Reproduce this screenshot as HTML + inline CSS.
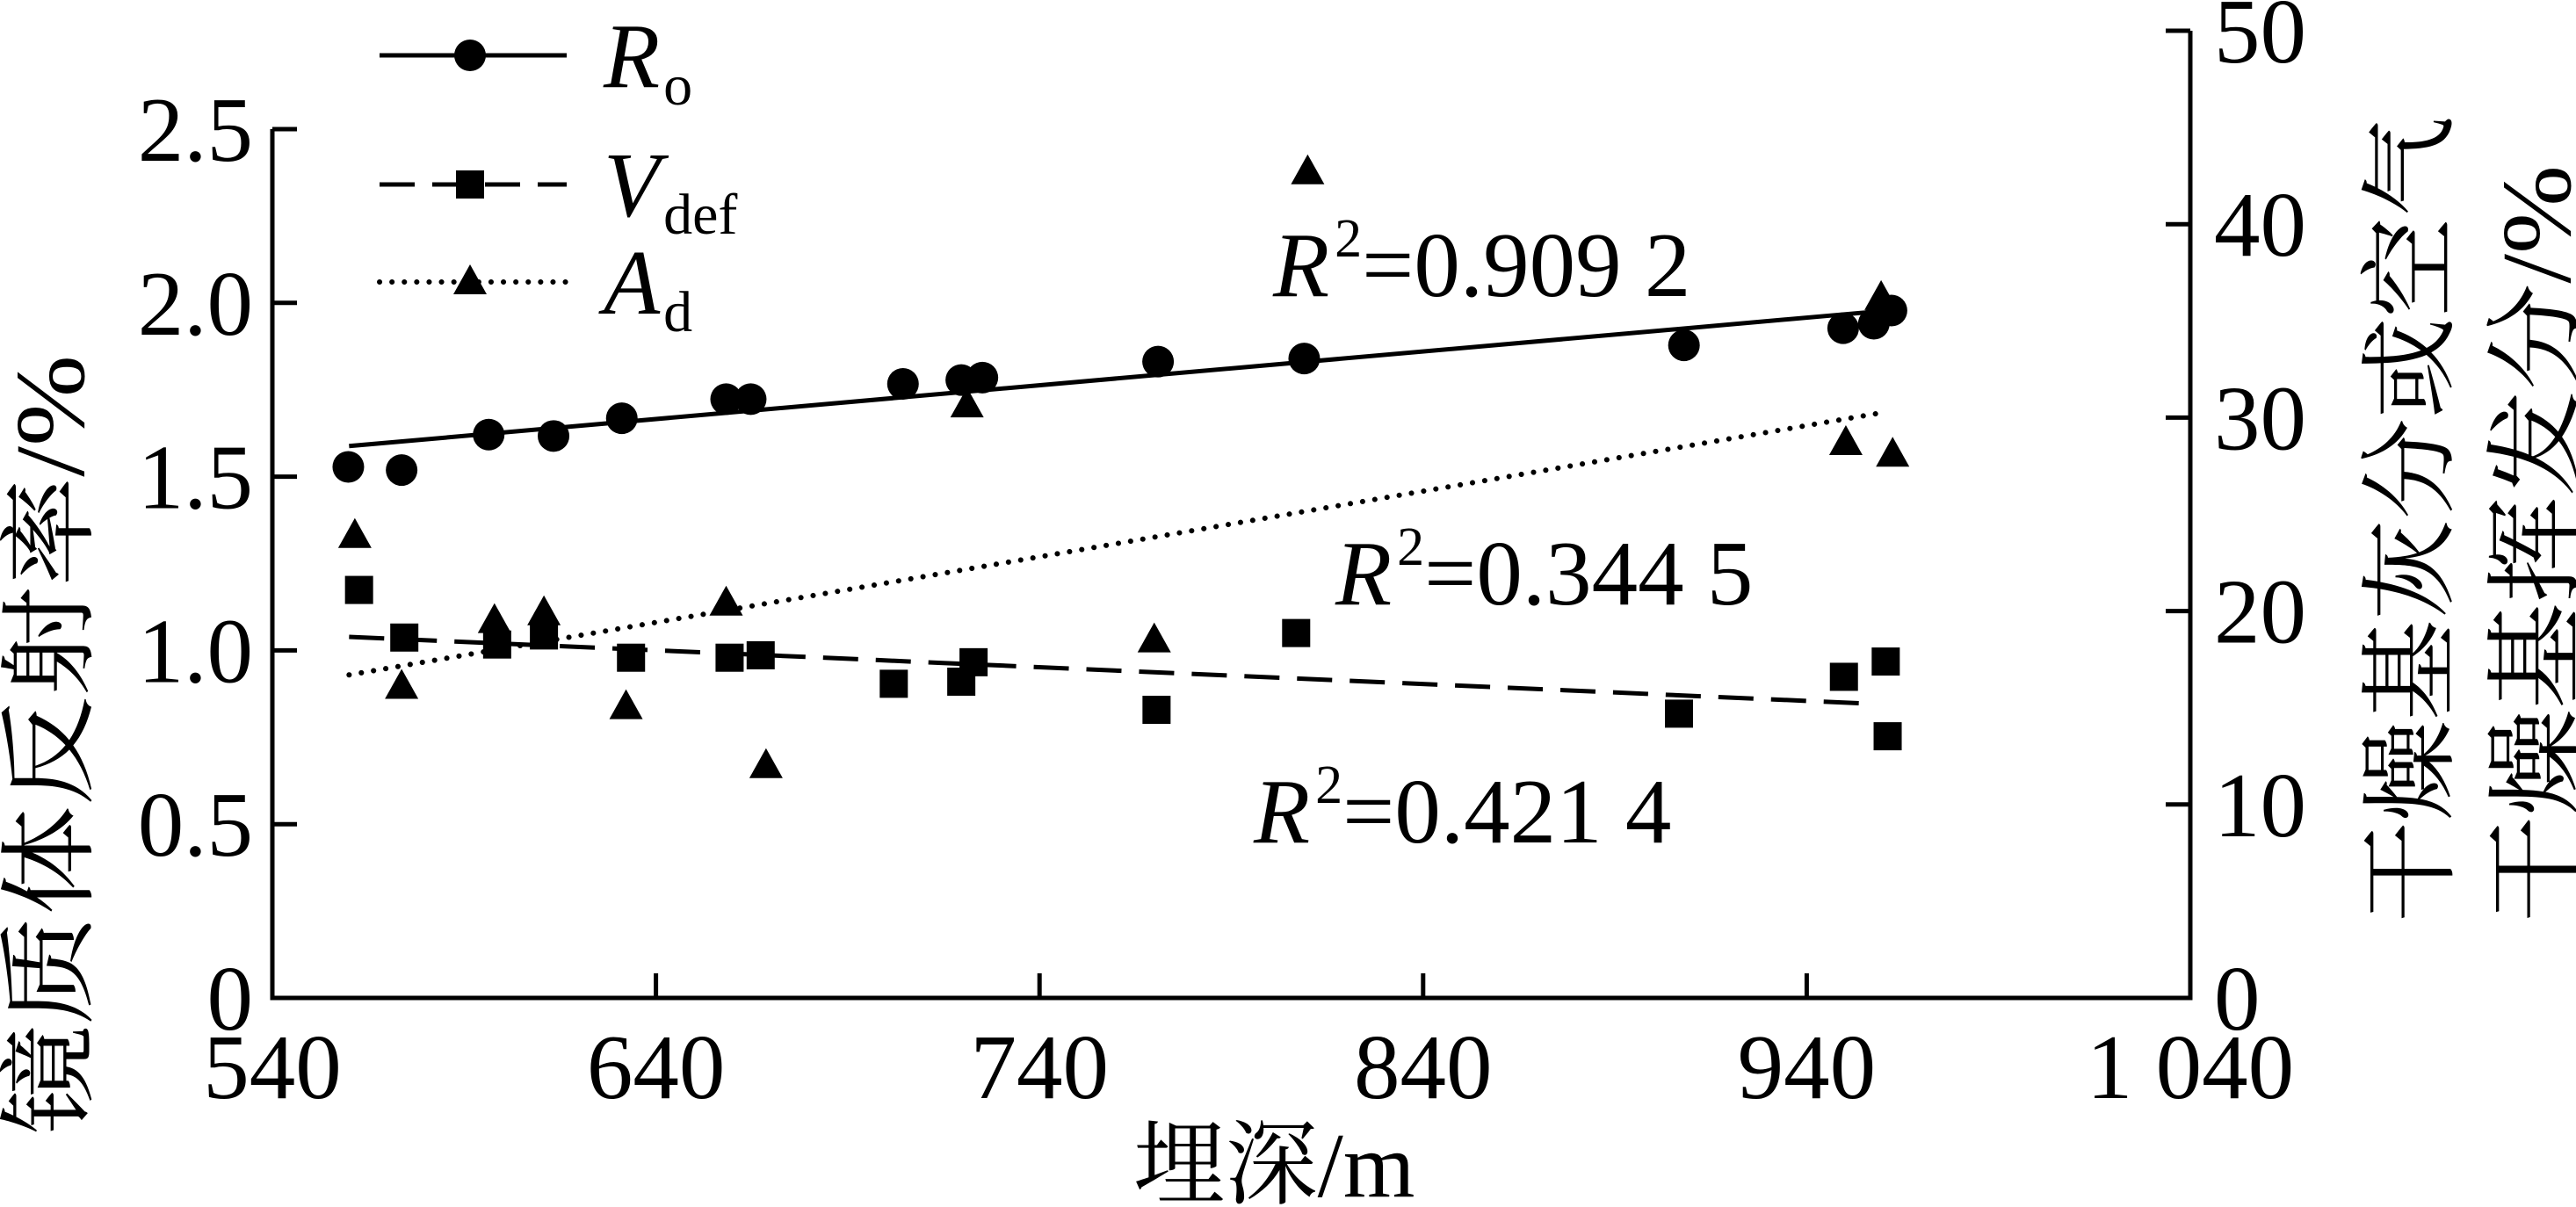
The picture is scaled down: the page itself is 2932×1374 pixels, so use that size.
<!DOCTYPE html>
<html><head><meta charset="utf-8"><style>
html,body{margin:0;padding:0;background:#fff}
svg{display:block}
text{font-family:"Liberation Serif","Noto Serif CJK SC",serif;fill:#000}
</style></head><body>
<svg id="chart" width="2932" height="1374" viewBox="0 0 2932 1374" xmlns="http://www.w3.org/2000/svg">
<g id="axes"></g>
<g id="marks"></g>
<g id="legend"></g>
<text x="1449" y="337" font-size="105"><tspan font-style="italic">R</tspan><tspan dy="-45" dx="6" font-size="62">2</tspan><tspan dy="45">=0.909 2</tspan></text>
<text x="1520" y="688" font-size="105"><tspan font-style="italic">R</tspan><tspan dy="-45" dx="6" font-size="62">2</tspan><tspan dy="45">=0.344 5</tspan></text>
<text x="1427" y="959" font-size="105"><tspan font-style="italic">R</tspan><tspan dy="-45" dx="6" font-size="62">2</tspan><tspan dy="45">=0.421 4</tspan></text>
<text x="1450" y="1362" font-size="105" text-anchor="middle">埋深/m</text>
<text transform="translate(95,1292) rotate(-90)" font-size="112" textLength="888" lengthAdjust="spacingAndGlyphs">镜质体反射率/%</text>
<text transform="translate(2782,1050) rotate(-90)" font-size="112" textLength="918" lengthAdjust="spacingAndGlyphs">干燥基灰分或空气</text>
<text transform="translate(2925,1050) rotate(-90)" font-size="112" textLength="862" lengthAdjust="spacingAndGlyphs">干燥基挥发分/%</text>
</svg>
<script>
const xTicks = [540, 640, 740, 840, 940, 1040];
const xTickLabels = ["540", "640", "740", "840", "940", "1 040"];
const yLeftTicks = [0, 0.5, 1.0, 1.5, 2.0, 2.5];
const yLeftLabels = ["0", "0.5", "1.0", "1.5", "2.0", "2.5"];
const yRightTicks = [0, 10, 20, 30, 40, 50];
const yRightLabels = ["0", "10", "20", "30", "40", "50"];

const roDepth = [559.8, 573.7, 596.4, 613.3, 631.1, 658.3, 664.7, 704.4, 719.6, 725.1, 770.9, 809.0, 908.0, 949.5, 957.5, 962.1];
const roValue = [1.528, 1.519, 1.621, 1.617, 1.668, 1.723, 1.723, 1.767, 1.778, 1.785, 1.831, 1.840, 1.878, 1.927, 1.940, 1.978];
const vdefDepth = [562.6, 574.4, 598.6, 610.8, 633.5, 659.2, 667.3, 702.0, 719.6, 722.8, 770.5, 806.9, 906.7, 949.7, 960.6, 961.1];
const vdefValue = [1.174, 1.037, 1.017, 1.043, 0.979, 0.979, 0.986, 0.904, 0.910, 0.966, 0.829, 1.050, 0.818, 0.924, 0.968, 0.753];
const adDepth = [561.5, 573.7, 597.9, 610.8, 632.2, 658.3, 668.7, 721.1, 769.9, 809.9, 950.2, 959.4, 962.4];
const adValue = [23.9, 16.1, 19.5, 19.9, 15.05, 20.4, 12.0, 30.65, 18.5, 42.7, 28.7, 36.2, 28.1];

const fitDepth = [560, 958];
const roFit = [1.588, 1.975];
const vdefFit = [1.039, 0.846];
const adFit = [16.7, 30.2];

const X0 = 310, X1 = 2493, Y0 = 1136, YT = 147, YR = 35;
const xs = d => X0 + (d - 540) / 500 * (X1 - X0);
const yl = v => Y0 - v / 2.5 * (Y0 - YT);
const yr = v => Y0 - v / 50 * (Y0 - YR);
const NS = "http://www.w3.org/2000/svg";
function mk(tag, attrs, parent) {
  const e = document.createElementNS(NS, tag);
  for (const k in attrs) e.setAttribute(k, attrs[k]);
  parent.appendChild(e);
  return e;
}
const axes = document.getElementById('axes');
const marks = document.getElementById('marks');
const legend = document.getElementById('legend');

let a = mk('path', {d:`M${X0},${YT} V${Y0} H${X1} V${YR}`, fill:'none', stroke:'#000', 'stroke-width':5}, axes);



xTicks.forEach((t, i) => {
  const x = xs(t);
  if (i > 0 && i < xTicks.length - 1) {
    const l = mk('line', {x1:x, x2:x, y1:Y0, y2:Y0-28, stroke:'#000', 'stroke-width':5}, axes);
    
    
  }
  const tx = mk('text', {x:x, y:1250, 'font-size':105, 'text-anchor':'middle'}, axes);
  tx.textContent = xTickLabels[i];
  
  
});
yLeftTicks.forEach((t, i) => {
  const y = yl(t);
  if (i > 0) {
    const l = mk('line', {x1:X0, x2:X0+28, y1:y, y2:y, stroke:'#000', 'stroke-width':5}, axes);
    
    
  }
  const tx = mk('text', {x:288, y:y+36, 'font-size':105, 'text-anchor':'end'}, axes);
  tx.textContent = yLeftLabels[i];
  
  
});
yRightTicks.forEach((t, i) => {
  const y = yr(t);
  if (i > 0) {
    const l = mk('line', {x1:X1, x2:X1-28, y1:y, y2:y, stroke:'#000', 'stroke-width':5}, axes);
    
    
  }
  const tx = mk('text', {x:2520, y:y+36, 'font-size':105, 'text-anchor':'start'}, axes);
  tx.textContent = yRightLabels[i];
  
  
});

function fitLine(vals, yf, dash, name) {
  const l = mk('line', {x1:xs(fitDepth[0]), y1:yf(vals[0]), x2:xs(fitDepth[1]), y2:yf(vals[1]), stroke:'#000', 'stroke-width':5}, marks);
  if (dash) { l.setAttribute('stroke-dasharray', dash); }
  if (name === 'ad-fit-line') { l.setAttribute('stroke-linecap', 'round'); l.setAttribute('stroke-width', 6); }
  
  
}
fitLine(roFit, yl, null, 'ro-fit-line');
fitLine(vdefFit, yl, '40 20', 'vdef-fit-line');
fitLine(adFit, yr, '0.1 14', 'ad-fit-line');

function circle(x, y, p) { return mk('circle', {cx:x, cy:y, r:18, fill:'#000'}, p); }
function square(x, y, p) { return mk('rect', {x:x-16, y:y-16, width:32, height:32, fill:'#000'}, p); }
function tri(x, y, p) { return mk('polygon', {points:`${x},${y-20} ${x-19},${y+14} ${x+19},${y+14}`, fill:'#000'}, p); }

roDepth.forEach((d, i) => {
  const c = circle(xs(d), yl(roValue[i]), marks);
  
  
});
vdefDepth.forEach((d, i) => {
  const s = square(xs(d), yl(vdefValue[i]), marks);
  
  
});
adDepth.forEach((d, i) => {
  const t = tri(xs(d), yr(adValue[i]), marks);
  
  
});

const legY = [63, 210, 321];
const legDash = [null, '40 20', '0.1 14'];
const legShape = [circle, square, tri];
const legMain = ['R', 'V', 'A'];
const legSub = ['o', 'def', 'd'];
legY.forEach((y, i) => {
  const l = mk('line', {x1:432, x2:645, y1:y, y2:y, stroke:'#000', 'stroke-width':5}, legend);
  if (legDash[i]) l.setAttribute('stroke-dasharray', legDash[i]);
  if (i === 2) { l.setAttribute('stroke-linecap', 'round'); l.setAttribute('stroke-width', 6); }
  
  
  const m = legShape[i](535, y, legend);
  
  
  const t = mk('text', {x:687, y:y+36, 'font-size':105}, legend);
  
  
  const t1 = mk('tspan', {'font-style':'italic'}, t); t1.textContent = legMain[i];
  const t2 = mk('tspan', {'font-size':66, dy:20, dx:4}, t); t2.textContent = legSub[i];
});
</script>
</body></html>
